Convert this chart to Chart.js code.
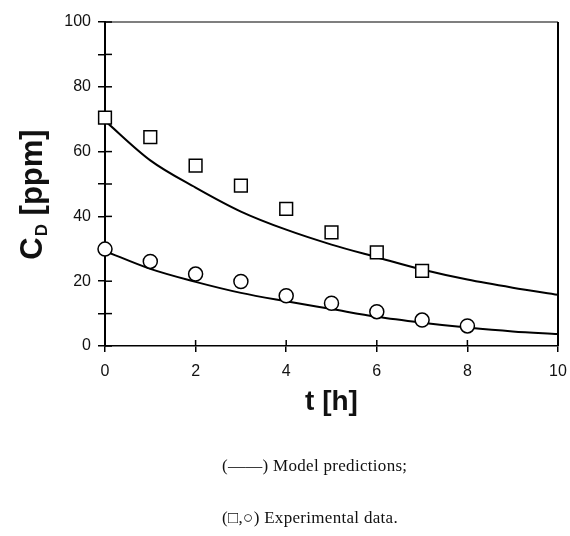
<!DOCTYPE html>
<html>
<head>
<meta charset="utf-8">
<script src="https://cdn.jsdelivr.net/npm/chart.js@4/dist/chart.umd.min.js"></script>
<style>
  html, body { margin: 0; padding: 0; background: #fff; }
  #wrap { position: relative; width: 570px; height: 536px; }
  canvas { position: absolute; left: 0; top: 0; }
  .note { position: absolute; left: 222px; font-family: "Liberation Serif", "DejaVu Serif", serif; font-size: 17px; letter-spacing: 0.3px; color: #111; white-space: nowrap; line-height: 20px; }
</style>
</head>
<body>
<div id="wrap">
  <canvas id="c" width="570" height="536"></canvas>
  <div class="note" style="top:456px;">(——) Model predictions;</div>
  <div class="note" style="top:508px;">(□,○) Experimental data.</div>
</div>
<script>
// ---- data ----
const modelTimes = [0, 1, 2, 3, 4, 5, 6, 7, 8, 9, 10];
const modelUpper = [69.5, 57.3, 48.9, 41.5, 35.9, 31.3, 27.4, 23.6, 20.5, 18.0, 15.8];
const modelLower = [29.3, 23.8, 19.8, 16.4, 13.8, 11.4, 9.0, 7.2, 5.7, 4.5, 3.7];
const expTimesSquares = [0, 1, 2, 3, 4, 5, 6, 7];
const expSquares = [70.5, 64.5, 55.7, 49.5, 42.3, 35.1, 28.9, 23.2];
const expTimesCircles = [0, 1, 2, 3, 4, 5, 6, 7, 8];
const expCircles = [29.9, 26.1, 22.2, 19.9, 15.5, 13.2, 10.6, 8.0, 6.2];
const xTickStep = 2;
const yTickStep = 10;
const yLabelStep = 20;

const pts = (xs, ys) => xs.map((x, i) => ({ x: x, y: ys[i] }));

const framePlugin = {
  id: 'frame',
  beforeDatasetsDraw(chart) {
    const ctx = chart.ctx;
    const a = chart.chartArea;
    const xs = chart.scales.x, ys = chart.scales.y;
    ctx.save();
    ctx.strokeStyle = '#000';
    ctx.lineWidth = 1.5;
    ys.ticks.forEach(t => {
      const py = ys.getPixelForValue(t.value);
      ctx.beginPath(); ctx.moveTo(a.left, py); ctx.lineTo(a.left + 7, py); ctx.stroke();
    });
    xs.ticks.forEach(t => {
      const px = xs.getPixelForValue(t.value);
      ctx.beginPath(); ctx.moveTo(px, a.bottom); ctx.lineTo(px, a.bottom - 6); ctx.stroke();
    });
    ctx.lineWidth = 1.2;
    ctx.beginPath(); ctx.moveTo(a.left, a.top); ctx.lineTo(a.right, a.top); ctx.stroke();
    ctx.lineWidth = 2;
    ctx.beginPath(); ctx.moveTo(a.right, a.top); ctx.lineTo(a.right, a.bottom); ctx.stroke();
    ctx.restore();
  },
  afterDraw(chart) {
    const ctx = chart.ctx;
    const a = chart.chartArea;
    ctx.save();
    ctx.fillStyle = '#111';
    ctx.textBaseline = 'alphabetic';
    ctx.font = 'bold 28px "Liberation Sans", Arial, sans-serif';
    ctx.textAlign = 'center';
    ctx.fillText('t [h]', (a.left + a.right) / 2, 410);
    ctx.translate(31, 195);
    ctx.rotate(-Math.PI / 2);
    ctx.textAlign = 'left';
    const big = 'bold 31px "Liberation Sans", Arial, sans-serif';
    const small = 'bold 17px "Liberation Sans", Arial, sans-serif';
    ctx.font = big; const wC = ctx.measureText('C').width; const wRest = ctx.measureText(' [ppm]').width;
    ctx.font = small; const wD = ctx.measureText('D').width;
    let x0 = -(wC + wD + wRest) / 2;
    const base = 11;
    ctx.font = big; ctx.fillText('C', x0, base); x0 += wC;
    ctx.font = small; ctx.fillText('D', x0 + 1, base + 5); x0 += wD + 1;
    ctx.font = big; ctx.fillText(' [ppm]', x0, base);
    ctx.restore();
  }
};

new Chart(document.getElementById('c'), {
  type: 'scatter',
  data: {
    datasets: [
      { type: 'line', data: pts(modelTimes, modelUpper), borderColor: '#000', borderWidth: 2, pointRadius: 0, cubicInterpolationMode: 'monotone', fill: false, order: 2 },
      { type: 'line', data: pts(modelTimes, modelLower), borderColor: '#000', borderWidth: 2, pointRadius: 0, cubicInterpolationMode: 'monotone', fill: false, order: 2 },
      { data: pts(expTimesSquares, expSquares), pointStyle: 'rect', pointRadius: 9, pointBorderWidth: 1.5, borderColor: '#000', backgroundColor: '#fff', order: 1, clip: false },
      { data: pts(expTimesCircles, expCircles), pointStyle: 'circle', pointRadius: 7, pointBorderWidth: 1.5, borderColor: '#000', backgroundColor: '#fff', order: 1, clip: false }
    ]
  },
  options: {
    responsive: false,
    animation: false,
    layout: { padding: { left: 0, right: 12, top: 22, bottom: 0 } },
    plugins: { legend: { display: false }, tooltip: { enabled: false } },
    scales: {
      x: {
        type: 'linear', min: 0, max: 10,
        ticks: { stepSize: xTickStep, color: '#111', padding: 10, font: { family: '"Liberation Sans", Arial, sans-serif', size: 16 } },
        grid: { drawOnChartArea: false, drawTicks: true, tickLength: 6, color: '#000', lineWidth: 1.5 },
        border: { display: true, color: '#000', width: 1.5 },
        afterFit(s) { s.height = 190; s.paddingRight = 0; s.paddingLeft = 0; }
      },
      y: {
        type: 'linear', min: 0, max: 100,
        ticks: { stepSize: yTickStep, color: '#111', padding: 7, font: { family: '"Liberation Sans", Arial, sans-serif', size: 16 },
          callback: v => (v % yLabelStep === 0 ? String(v) : '') },
        grid: { drawOnChartArea: false, drawTicks: true, tickLength: 7, color: '#000', lineWidth: 1.5 },
        border: { display: true, color: '#000', width: 2 },
        afterFit(s) { s.width = 105; s.paddingTop = 0; s.paddingBottom = 0; }
      }
    }
  },
  plugins: [framePlugin]
});
</script>
</body>
</html>
